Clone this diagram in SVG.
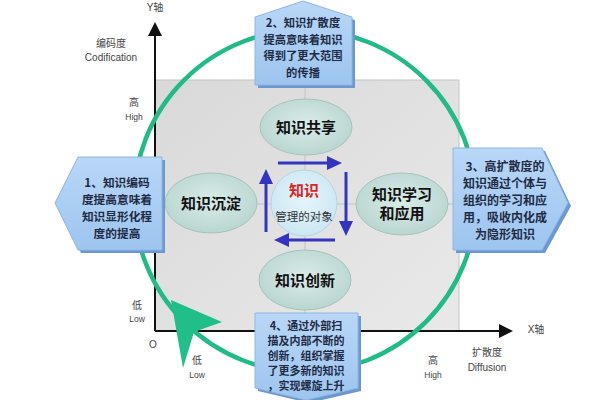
<svg xmlns="http://www.w3.org/2000/svg" width="600" height="400" viewBox="0 0 600 400">
<defs>
<linearGradient id="gGrey" x1="0" y1="0" x2="1" y2="1">
<stop offset="0" stop-color="#d9d9d9"/><stop offset="1" stop-color="#e9e9e9"/>
</linearGradient>
<linearGradient id="gBox" x1="0" y1="0" x2="0" y2="1">
<stop offset="0" stop-color="#b9d7f7"/><stop offset="1" stop-color="#9dc5ef"/>
</linearGradient>
<radialGradient id="gEll" cx="0.5" cy="0.45" r="0.6">
<stop offset="0" stop-color="#d9ece8"/><stop offset="1" stop-color="#b7d4cf"/>
</radialGradient>
<radialGradient id="gCen" cx="0.5" cy="0.45" r="0.6">
<stop offset="0" stop-color="#e6f5fb"/><stop offset="1" stop-color="#c9e6f2"/>
</radialGradient>
<marker id="ah" markerUnits="userSpaceOnUse" markerWidth="15" markerHeight="14" refX="6" refY="7" orient="auto">
<path d="M0,0 L15,7 L0,14 z" fill="#3434c2"/>
</marker>
<marker id="axh" markerUnits="userSpaceOnUse" markerWidth="14" markerHeight="14" refX="4" refY="7" orient="auto">
<path d="M0,0 L14,7 L0,14 z" fill="#111"/>
</marker>
</defs>
<style>
.cjk{font-family:"Noto Sans CJK SC","Noto Sans",sans-serif}
.lbl{font-family:"Liberation Sans","Noto Sans CJK SC",sans-serif;font-size:10px;fill:#444;text-anchor:middle}
.sm{font-size:8.5px}
.box{fill:url(#gBox);stroke:#8fb6e2;stroke-width:1}
.shd{fill:#6b98cf}
.bt{font-family:"Noto Sans CJK SC",sans-serif;font-weight:bold;fill:#1f2b45;text-anchor:middle}
.ell{fill:url(#gEll);stroke:#a6c3be;stroke-width:1}
.et{font-family:"Noto Sans CJK SC",sans-serif;font-weight:bold;font-size:15px;fill:#111;text-anchor:middle}
.barr{stroke:#3434c2;stroke-width:3;fill:none;marker-end:url(#ah)}
</style>
<rect width="600" height="400" fill="#fff"/>

<g id="quadrant">
<rect x="155" y="80" width="304" height="251" fill="url(#gGrey)" stroke="#c4c4c4" stroke-width="1"/>
<line x1="155" y1="204" x2="459" y2="204" stroke="#c2c2c2" stroke-width="1"/>
<line x1="305" y1="80" x2="305" y2="331" stroke="#c2c2c2" stroke-width="1"/>
</g>

<g id="axes">
<line x1="155" y1="331" x2="155" y2="32" stroke="#111" stroke-width="2" marker-end="url(#axh)"/>
<line x1="155" y1="331" x2="503" y2="331" stroke="#111" stroke-width="2" marker-end="url(#axh)"/>
<text class="lbl cjk" x="155" y="11" font-size="11">Y轴</text>
<text class="lbl cjk" x="536" y="333" font-size="11">X轴</text>
<text class="lbl cjk" x="111" y="47">编码度</text>
<text class="lbl" x="111" y="61">Codification</text>
<text class="lbl cjk" x="134" y="106">高</text>
<text class="lbl sm" x="134" y="120">High</text>
<text class="lbl cjk" x="137" y="309">低</text>
<text class="lbl sm" x="137" y="322">Low</text>
<text class="lbl" x="153" y="348">O</text>
<text class="lbl cjk" x="197" y="364">低</text>
<text class="lbl sm" x="197" y="378">Low</text>
<text class="lbl cjk" x="433" y="364">高</text>
<text class="lbl sm" x="433" y="378">High</text>
<text class="lbl cjk" x="487" y="356">扩散度</text>
<text class="lbl" x="487" y="371">Diffusion</text>
</g>

<g id="connectors">
<circle cx="305" cy="201" r="171" fill="none" stroke="#20bb88" stroke-width="4.5"/>
<polygon points="171,300 222,322 194,332 183,368" fill="#20bf8a"/>
<line class="barr" x1="278" y1="163" x2="333" y2="163"/>
<line class="barr" x1="346" y1="172" x2="346" y2="227"/>
<line class="barr" x1="335" y1="240" x2="283" y2="240"/>
<line class="barr" x1="266" y1="232" x2="266" y2="178"/>
</g>

<g id="node-share">
<ellipse class="ell" cx="306" cy="127" rx="46" ry="28"/>
<text class="et" x="306" y="133">知识共享</text>
</g>
<g id="node-settle">
<ellipse class="ell" cx="211" cy="203" rx="46" ry="30"/>
<text class="et" x="211" y="209">知识沉淀</text>
</g>
<g id="node-learn">
<ellipse class="ell" cx="402" cy="204" rx="46" ry="31"/>
<text class="et" x="402" y="200">知识学习</text>
<text class="et" x="402" y="219">和应用</text>
</g>
<g id="node-innovate">
<ellipse class="ell" cx="305" cy="280" rx="46" ry="30"/>
<text class="et" x="305" y="286">知识创新</text>
</g>
<g id="node-center">
<circle cx="304" cy="203" r="33" fill="url(#gCen)" stroke="#b3d6e4" stroke-width="1"/>
<text class="et" x="304" y="196" style="fill:#e02424">知识</text>
<text x="304" y="221" font-family="Noto Sans CJK SC, sans-serif" font-size="11.5" fill="#333" text-anchor="middle">管理的对象</text>
</g>

<g id="box1">
<polygon class="shd" points="81,160 165,160 165,253 81,253 58,206"/>
<polygon class="box" points="78,157 162,157 162,250 78,250 55,203"/>
<text class="bt" font-size="11.7" x="117"><tspan x="117" y="187">1、知识编码</tspan><tspan x="117" y="204">度提高意味着</tspan><tspan x="117" y="221">知识显形化程</tspan><tspan x="117" y="238">度的提高</tspan></text>
</g>

<g id="box2">
<polygon class="shd" points="258,20 303,4 355,20 355,88 258,88"/>
<polygon class="box" points="255,17 303,1 352,17 352,85 255,85"/>
<text class="bt" font-size="11.3" x="303"><tspan x="303" y="27">2、知识扩散度</tspan><tspan x="303" y="43.5">提高意味着知识</tspan><tspan x="303" y="60">得到了更大范围</tspan><tspan x="303" y="76.5">的传播</tspan></text>
</g>

<g id="box3">
<polygon class="shd" points="456,151 545,151 571,206 545,253 456,253"/>
<polygon class="box" points="453,148 542,148 568,203 542,250 453,250"/>
<text class="bt" font-size="12" x="505"><tspan x="505" y="171">3、高扩散度的</tspan><tspan x="505" y="188">知识通过个体与</tspan><tspan x="505" y="205">组织的学习和应</tspan><tspan x="505" y="222">用，吸收内化成</tspan><tspan x="505" y="239">为隐形知识</tspan></text>
</g>

<g id="box4">
<polygon class="shd" points="258,316 361,316 361,391 309,403 258,391"/>
<polygon class="box" points="255,313 358,313 358,388 306,400 255,388"/>
<text class="bt" font-size="11" x="306"><tspan x="306" y="330">4、通过外部扫</tspan><tspan x="306" y="345">描及内部不断的</tspan><tspan x="306" y="360">创新，组织掌握</tspan><tspan x="306" y="375">了更多新的知识</tspan><tspan x="306" y="390">，实现螺旋上升</tspan></text>
</g>
</svg>
